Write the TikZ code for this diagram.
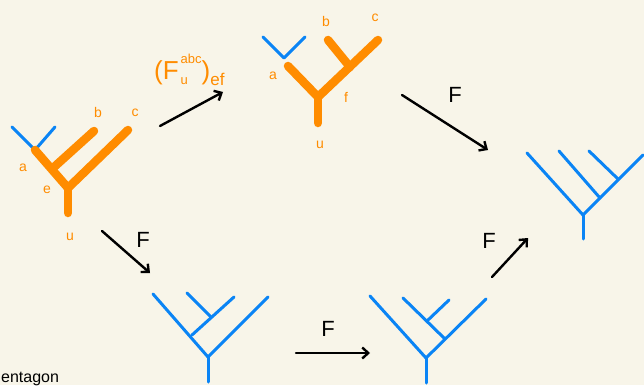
\documentclass[tikz,border=0pt]{standalone}
\usepackage{fontspec}
\setmainfont{Liberation Sans}
\usepackage{tikz}
\usetikzlibrary{arrows.meta, positioning}
\definecolor{paper}{HTML}{F8F5E9}
\definecolor{treeblue}{HTML}{0A84F5}
\definecolor{treeorange}{HTML}{FF8C00}
\tikzstyle{thin branch} = [draw=treeblue, line width=3pt, line cap=round]
\tikzstyle{fat branch} = [draw=treeorange, line width=8.5pt, line cap=round]
\tikzstyle{leaf label} = [text=treeorange, font=\fontsize{14}{14}\selectfont, inner sep=0pt]
\tikzstyle{map label} = [text=black, font=\fontsize{22}{22}\selectfont, inner sep=0pt]
\tikzstyle{arrow} = [-{Straight Barb[length=6pt, width=11pt]}, line width=2.4pt, line cap=round]

\begin{document}
\begin{tikzpicture}[x=1pt, y=-1pt]
  \useasboundingbox (0,0) rectangle (644,385);
  \fill[paper] (0,0) rectangle (644,385);

  % Left tree (orange, ((ab)c))
  \draw[thin branch] (12,127) -- (35,150) (35,150) -- (55,127);
  \draw[fat branch] (35,150) -- (68,188) -- (128,130);
  \draw[fat branch] (53,168) -- (94,131);
  \draw[fat branch] (68,188) -- (68,213);
  \node[leaf label] (la) at (23,168) {a};
  \node[leaf label] (le) at (47,190) {e};
  \node[leaf label] (lb) at (98,112) {b};
  \node[leaf label] (lc) at (135,113) {c};
  \node[leaf label] (lu) at (70,237) {u};
  \coordinate (leftout) at (160,126);
  \coordinate (leftdown) at (102,231);

  % Top tree (orange, (a(bc)))
  \draw[thin branch] (263,37) -- (284,58) (284,58) -- (305,37);
  \draw[fat branch] (288,66) -- (318,97) -- (378,40);
  \draw[fat branch] (350,67) -- (328,40);
  \draw[fat branch] (318,97) -- (318,123);
  \node[leaf label] (ta) at (273,76) {a};
  \node[leaf label] (tb) at (326,21) {b};
  \node[leaf label] (tc) at (375,18) {c};
  \node[leaf label] (tf) at (346,97) {f};
  \node[leaf label] (tu) at (320,145) {u};
  \coordinate (topin) at (223,92);
  \coordinate (topout) at (402,95);

  % Right tree (blue)
  \draw[thin branch] (527,153) -- (583,215) -- (643,155);
  \draw[thin branch] (600,198) -- (559,151);
  \draw[thin branch] (618,179) -- (589,151);
  \draw[thin branch] (583,215) -- (583,239);
  \coordinate (rightin) at (488,150);
  \coordinate (rightlow) at (528,238);

  % Bottom left tree (blue)
  \draw[thin branch] (153,294) -- (208,357) -- (268,297);
  \draw[thin branch] (192,335) -- (234,297);
  \draw[thin branch] (211,317) -- (187,293);
  \draw[thin branch] (208,357) -- (208,382);
  \coordinate (blin) at (150,273);
  \coordinate (blout) at (296,353);

  % Bottom right tree (blue)
  \draw[thin branch] (370,296) -- (426,358) -- (486,299);
  \draw[thin branch] (444,338) -- (403,298);
  \draw[thin branch] (427,321) -- (449,300);
  \draw[thin branch] (426,358) -- (426,383);
  \coordinate (brin) at (370,353);
  \coordinate (brout) at (492,277);

  % Arrows
  \draw[arrow] (leftout) -- (topin);
  \draw[arrow] (topout) -- (rightin);
  \draw[arrow] (leftdown) -- (blin);
  \draw[arrow] (blout) -- (brin);
  \draw[arrow] (brout) -- (rightlow);

  % Labels
  \node[text=treeorange, font=\fontsize{26}{26}\selectfont, inner sep=0pt, anchor=base west] (fmove) at (154,80)
    {(F\kern2pt\rlap{\raisebox{-5pt}{\fontsize{13}{13}\selectfont u}}\raisebox{16pt}{\fontsize{13}{13}\selectfont abc})\raisebox{-6pt}{\fontsize{17}{17}\selectfont ef}};
  \node[map label] (f1) at (455,95) {F};
  \node[map label] (f2) at (143,240) {F};
  \node[map label] (f3) at (328,329) {F};
  \node[map label] (f4) at (489,241) {F};
  \node[anchor=base west, inner sep=0pt, font=\fontsize{16}{16}\selectfont] (caption) at (1,382) {entagon};
\end{tikzpicture}
\end{document}
